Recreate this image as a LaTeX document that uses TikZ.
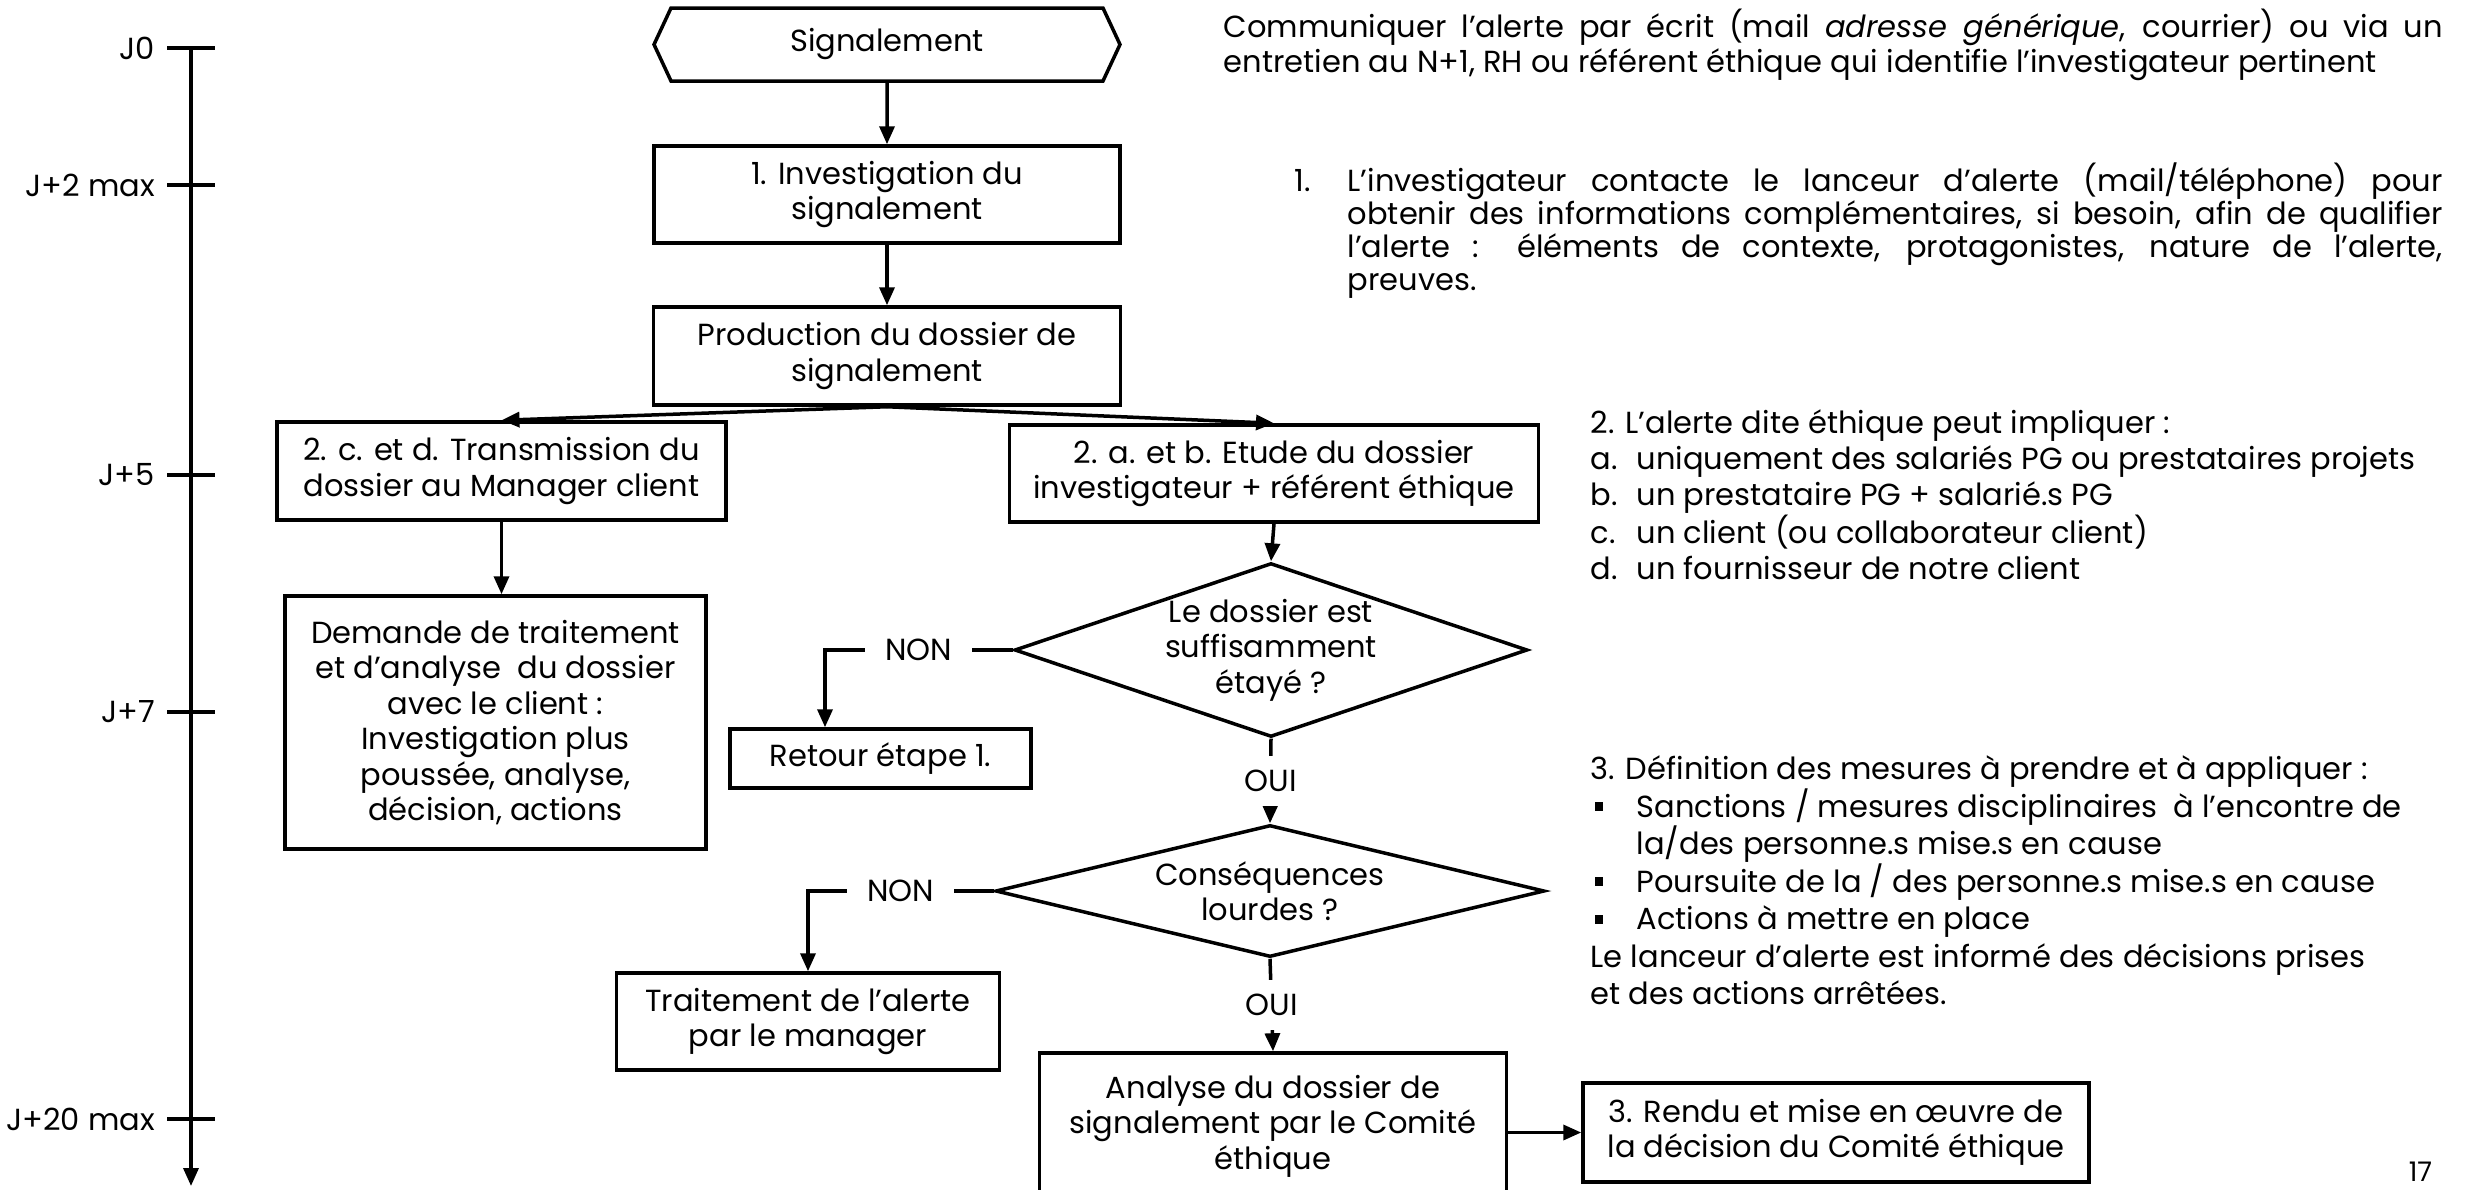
\documentclass[tikz,border=0pt]{standalone}
\usepackage{fontspec}
\setmainfont{Poppins}
\usetikzlibrary{shapes.geometric,shapes.symbols,arrows.meta}

\begin{document}
\begin{tikzpicture}[x=1pt,y=-1pt,>={Triangle[length=18pt,width=15pt]},line width=3.5pt,font=\fontsize{30.5}{35.5}\selectfont]
\tikzstyle{block}=[rectangle,draw,align=center,inner sep=4pt]
\tikzstyle{signalbox}=[signal,draw,signal to=west and east,signal pointer angle=130,align=center]
\tikzstyle{choice}=[diamond,draw,align=center,inner sep=0pt]
\tikzstyle{answer}=[fill=white,inner xsep=20pt,inner ysep=14pt]
\tikzstyle{note}=[anchor=north west,inner sep=0pt]
\tikzstyle{tickmark}=[line width=4.5pt]

\useasboundingbox (0,0) rectangle (2473,1189);
\clip (0,0) rectangle (2473,1189);

% time axis
\coordinate (axtop) at (191,48);
\coordinate (axbot) at (191,1186);
\draw[->] (axtop) -- (axbot);
\foreach \y/\lab [count=\i] in {48/J0,185/J+2 max,475/J+5,712/J+7,1119/J+20 max}
  \draw[tickmark] (167,\y) -- (215,\y) node[pos=0,left,inner sep=10pt] (day\i) {\lab};

% flow
\node[signalbox,minimum width=466,minimum height=73] (sig) at (887,44.5) {Signalement};
\node[block,minimum width=466,minimum height=97] (inv) at (887,194.5) {1. Investigation du\\signalement};
\node[block,minimum width=467,minimum height=98] (prod) at (887,356) {Production du dossier de\\signalement};
\node[block,minimum width=449,minimum height=98] (trans) at (501.5,471) {2. c. et d. Transmission du\\dossier au Manager client};
\node[block,minimum width=529,minimum height=97] (etude) at (1274,473.5) {2. a. et b. Etude du dossier\\investigateur + référent éthique};
\node[block,minimum width=421,minimum height=253] (dem) at (495.5,722.5) {Demande de traitement\\et d'analyse\ \ du dossier\\avec le client :\\Investigation plus\\poussée, analyse,\\décision, actions};
\node[choice,shape aspect=2.95,minimum width=504,minimum height=171] (q1) at (1271,650) {Le dossier est\\suffisamment\\étayé ?};
\node[block,minimum width=301,minimum height=59] (ret) at (880.5,758.5) {Retour étape 1.};
\node[choice,shape aspect=4.1,minimum width=549,minimum height=132] (q2) at (1270,891) {Conséquences\\lourdes ?};
\node[block,minimum width=383,minimum height=97] (trait) at (808,1021.5) {Traitement de l'alerte\\par le manager};
\node[block,minimum width=467,minimum height=146] (ana) at (1273,1126) {Analyse du dossier de\\signalement par le Comité\\éthique};
\node[block,minimum width=506,minimum height=99] (rendu) at (1836,1132.5) {3. Rendu et mise en œuvre de\\la décision du Comité éthique};
\coordinate (back) at (825,650);

\draw[->] (sig) -- (inv);
\draw[->] (inv) -- (prod);
\draw[->] (prod.south) -- (trans.north);
\draw[->] (prod.south) -- (etude.north);
\draw[->] (trans.south) -- (trans.south |- dem.north);
\draw[->] (etude.south) -- (q1.north);
\draw[->] (q1.west) -- node[answer] (no1) {NON} (back) -- (back |- ret.north);
\draw[->] (q1.south) -- node[answer] (yes1) {OUI} (q2.north);
\draw[->] (q2.west) -- node[answer] (no2) {NON} (q2.west -| trait.north) -- (trait.north);
\draw[->] (q2.south) -- node[answer] (yes2) {OUI} (ana.north);
\draw[->] (ana.east |- rendu.west) -- (rendu.west);

% side notes
\node[note,text width=1219,align=justify,font=\fontsize{30.5}{35}\selectfont] (com) at (1222,7)
  {Communiquer l'alerte par écrit (mail \textit{adresse générique}, courrier) ou via un\linebreak entretien au N+1, RH ou référent éthique qui identifie l'investigateur pertinent};
\node[note,text width=1148,align=justify,font=\fontsize{30.5}{33}\selectfont] (n1) at (1293,161)
  {\hangindent=53pt\hangafter=1\makebox[53pt][l]{1.}L'investigateur contacte le lanceur d'alerte (mail/téléphone) pour\linebreak obtenir des informations complémentaires, si besoin, afin de qualifier\linebreak l'alerte : éléments de contexte, protagonistes, nature de l'alerte,\linebreak preuves.\par};
\node[note,align=left,font=\fontsize{30.5}{36}\selectfont] (n2) at (1589,408)
  {2. L'alerte dite éthique peut impliquer :\\
   \makebox[46pt][l]{a.}uniquement des salariés PG ou prestataires projets\\
   \makebox[46pt][l]{b.}un prestataire PG + salarié.s PG\\
   \makebox[46pt][l]{c.}un client (ou collaborateur client)\\
   \makebox[46pt][l]{d.}un fournisseur de notre client};
\node[note,align=left,font=\fontsize{30.5}{37.5}\selectfont] (n3) at (1589,754)
  {3. Définition des mesures à prendre et à appliquer :\\
   \makebox[46pt][l]{\hspace{4pt}\raisebox{6pt}{\rule{8pt}{9pt}}}Sanctions / mesures disciplinaires\ \ à l'encontre de\\
   \hspace*{46pt}la/des personne.s mise.s en cause\\
   \makebox[46pt][l]{\hspace{4pt}\raisebox{6pt}{\rule{8pt}{9pt}}}Poursuite de la / des personne.s mise.s en cause\\
   \makebox[46pt][l]{\hspace{4pt}\raisebox{6pt}{\rule{8pt}{9pt}}}Actions à mettre en place\\
   Le lanceur d'alerte est informé des décisions prises\\
   et des actions arrêtées.};
\node[anchor=north west,inner sep=0pt,font=\fontsize{27}{30}\selectfont] (page) at (2407,1160) {17};
\end{tikzpicture}
\end{document}
